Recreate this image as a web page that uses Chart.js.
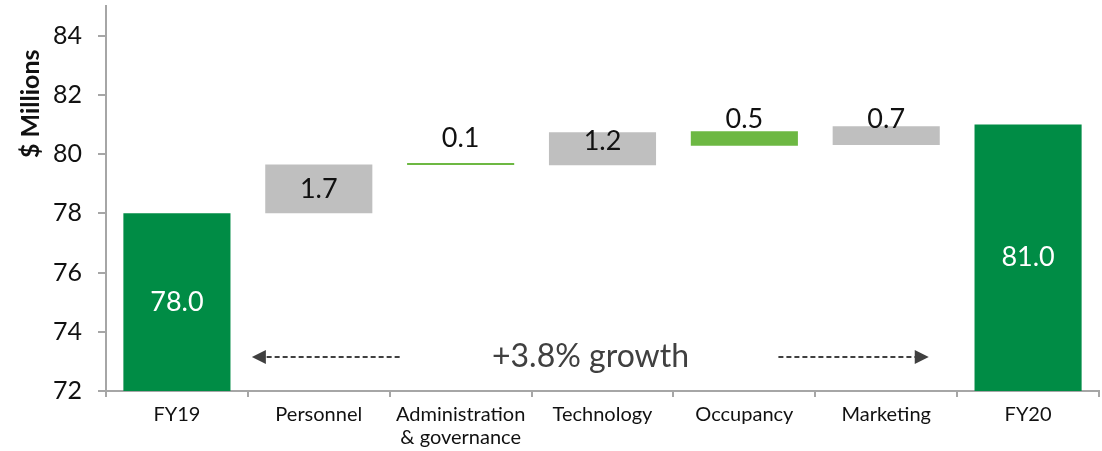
<!DOCTYPE html>
<html>
<head>
<meta charset="utf-8">
<script src="https://cdn.jsdelivr.net/npm/chart.js@4.4.0/dist/chart.umd.min.js"></script>
<style>
  html, body { margin: 0; padding: 0; background: #fff; }
  #wrap { width: 1102px; height: 451px; position: relative; }
</style>
</head>
<body>
<div id="wrap"><canvas id="chart"></canvas></div>
<script>
const categories = ["FY19", "Personnel", ["Administration", "& governance"], "Technology", "Occupancy", "Marketing", "FY20"];
// floating bars: [start, end] in $ millions
const barStart = [72, 78.0, 79.63, 79.62, 80.28, 80.31, 72];
const barEnd = [78.0, 79.65, 79.70, 80.74, 80.77, 80.94, 81.0];
const barLabels = ["78.0", "1.7", "0.1", "1.2", "0.5", "0.7", "81.0"];
const barColors = ["#008C45", "#BFBFBF", "#6DB843", "#BFBFBF", "#6DB843", "#BFBFBF", "#008C45"];
const yTicks = [72, 74, 76, 78, 80, 82, 84];
const yTitle = "$ Millions";
const growthText = "+3.8% growth";

const FONT = "Lato, 'Noto Sans', sans-serif";

// how each value label sits: inside centred, above the bar, or near the top inside
const labelMode = ["center", "center", "above", "top", "above", "above", "center"];
const labelGap = [0, 0, 16, 9, 3, -2, 0];

const labelPlugin = {
  id: "labels",
  afterDatasetsDraw(chart) {
    const ctx = chart.ctx;
    const meta = chart.getDatasetMeta(0);
    const xs = chart.scales.x, ys = chart.scales.y;
    ctx.save();
    ctx.font = "27px " + FONT;
    ctx.textAlign = "center";
    meta.data.forEach((bar, i) => {
      const top = Math.min(bar.y, bar.base);
      const bottom = Math.max(bar.y, bar.base);
      let y;
      if (labelMode[i] === "center") {
        ctx.textBaseline = "middle";
        y = (top + bottom) / 2;
      } else if (labelMode[i] === "top") {
        ctx.textBaseline = "middle";
        y = top + labelGap[i];
      } else {
        ctx.textBaseline = "alphabetic";
        y = top - labelGap[i];
      }
      ctx.fillStyle = barColors[i] === "#008C45" ? "#ffffff" : "#111111";
      ctx.fillText(barLabels[i], bar.x, y);
    });

    // y axis title, sitting in the upper part of the axis
    ctx.save();
    ctx.translate(31, ys.getPixelForValue(81.7));
    ctx.rotate(-Math.PI / 2);
    ctx.font = "bold 25px " + FONT;
    ctx.fillStyle = "#111";
    ctx.textBaseline = "middle";
    ctx.fillText(yTitle, 0, 0);
    ctx.restore();

    // growth annotation with dashed arrows
    const y = ys.getPixelForValue(73.15);
    const step = xs.getPixelForValue(1) - xs.getPixelForValue(0);
    ctx.fillStyle = "#404040";
    ctx.font = "32px " + FONT;
    ctx.textBaseline = "middle";
    ctx.fillText(growthText, xs.getPixelForValue(3) - 12, y);

    const drawArrow = (x0, x1) => {
      const d = Math.sign(x1 - x0);
      ctx.strokeStyle = "#404040";
      ctx.lineWidth = 2;
      ctx.setLineDash([5, 3]);
      ctx.beginPath();
      ctx.moveTo(x0, y);
      ctx.lineTo(x1 - d * 10, y);
      ctx.stroke();
      ctx.setLineDash([]);
      ctx.beginPath();
      ctx.moveTo(x1, y);
      ctx.lineTo(x1 - d * 14, y - 7);
      ctx.lineTo(x1 - d * 14, y + 7);
      ctx.closePath();
      ctx.fillStyle = "#404040";
      ctx.fill();
    };
    const b1 = xs.getPixelForValue(1) - step / 2;
    drawArrow(b1 + step * 1.07, b1 + 4);
    const b5 = xs.getPixelForValue(5) - step / 2;
    drawArrow(b5 - step * 0.26, b5 + step * 0.8);
    ctx.restore();
  }
};

new Chart(document.getElementById("chart"), {
  type: "bar",
  data: {
    labels: categories,
    datasets: [{
      data: barStart.map((s, i) => [s, barEnd[i]]),
      backgroundColor: barColors,
      borderWidth: 0,
      borderSkipped: false,
      categoryPercentage: 1,
      barPercentage: 0.755
    }]
  },
  options: {
    responsive: true,
    maintainAspectRatio: false,
    animation: false,
    layout: { padding: { top: 6, right: 3, left: 0, bottom: 0 } },
    plugins: { legend: { display: false }, tooltip: { enabled: false } },
    scales: {
      x: {
        grid: { offset: true, drawOnChartArea: false, tickLength: 6, color: "#A6A6A6", lineWidth: 2 },
        border: { color: "#A6A6A6", width: 2 },
        ticks: { color: "#111", font: { family: FONT, size: 20, lineHeight: 1.15 }, maxRotation: 0, autoSkip: false, padding: 6 },
        afterFit: s => { s.height = 60; s.paddingLeft = 0; s.paddingRight = 0; }
      },
      y: {
        min: 72,
        max: 85,
        afterBuildTicks: s => { s.ticks = yTicks.map(v => ({ value: v })); },
        grid: { drawOnChartArea: false, tickLength: 8, color: "#A6A6A6", lineWidth: 2 },
        border: { color: "#A6A6A6", width: 2 },
        ticks: { color: "#111", font: { family: FONT, size: 25 }, padding: 16 },
        afterFit: s => { s.width = 106; s.paddingTop = 0; s.paddingBottom = 0; }
      }
    }
  },
  plugins: [labelPlugin]
});
</script>
</body>
</html>
